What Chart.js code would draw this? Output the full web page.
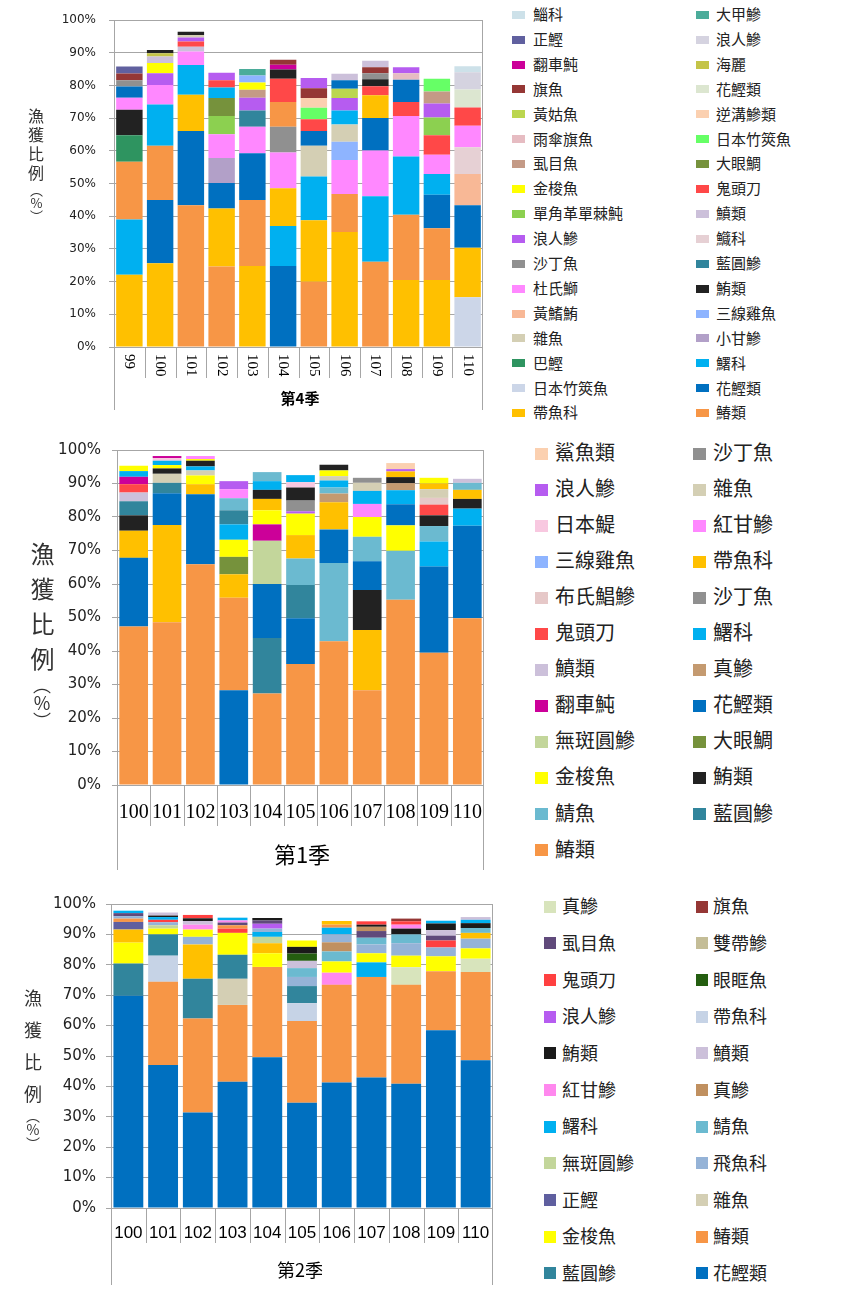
<!DOCTYPE html>
<html>
<head>
<meta charset="utf-8">
<script src="https://cdn.jsdelivr.net/npm/chart.js@4"></script>
<style>
  body { margin: 0; background: #fff; width: 854px; height: 1290px; position: relative; overflow: hidden;
         font-family: "Noto Sans CJK TC", "Noto Sans", sans-serif; }
  canvas { position: absolute; left: 0; }
  .leg { position: absolute; color: #222; white-space: nowrap; line-height: 1; }
  .sw { position: absolute; }
  .ytitle { position: absolute; writing-mode: vertical-rl; text-orientation: upright; color: #333; line-height: 1; }
  .ytitle span { letter-spacing: 0; }
</style>
</head>
<body>
<canvas id="c4" width="510" height="420" style="top:0"></canvas>
<canvas id="c1" width="510" height="445" style="top:430px"></canvas>
<canvas id="c2" width="510" height="405" style="top:885px"></canvas>
<div class="ytitle" style="left:28px;top:108px;font-size:16px;letter-spacing:3px">漁獲比例<span style="font-size:13px">（%）</span></div>
<div class="ytitle" style="left:30px;top:542px;font-size:24px;letter-spacing:11px">漁獲比例<span style="font-size:18px;margin-top:-6px">（%）</span></div>
<div class="ytitle" style="left:24px;top:989px;font-size:18px;letter-spacing:14px">漁獲比例<span style="font-size:14px;margin-top:-8px">（%）</span></div>
<div id="legends"></div>
<script>
// ---------- 第4季 ----------
const q4Years = ["99", "100", "101", "102", "103", "104", "105", "106", "107", "108", "109", "110"];
const q4Names = [
  "鯔科", "正鰹", "翻車魨", "旗魚", "黃姑魚", "雨傘旗魚", "虱目魚", "金梭魚", "單角革單棘魨",
  "浪人鰺", "沙丁魚", "杜氏鰤", "黃鰭鮪", "雜魚", "巴鰹", "日本竹筴魚", "帶魚科",
  "大甲鰺", "浪人鰺", "海麗", "花鰹類", "逆溝鰺類", "日本竹筴魚", "大眼鯛", "鬼頭刀",
  "鱝類", "鱵科", "藍圓鰺", "鮪類", "三線雞魚", "小甘鰺", "鱰科", "花鰹類", "鰆類"
];
// each bar, bottom to top: [species index, share %]
const q4Stacks = [
  [[16,22.1],[31,16.9],[33,17.7],[14,8.1],[28,7.8],[11,3.7],[32,3.4],[10,1.9],[3,2.1],[1,2.1]],
  [[16,25.6],[32,19.4],[33,16.6],[31,12.6],[11,6.0],[9,3.6],[7,3.1],[25,2.0],[19,1.0],[28,1.0]],
  [[33,43.4],[32,22.7],[16,11.1],[31,9.1],[11,4.1],[25,1.5],[24,1.6],[9,1.2],[13,0.8],[28,1.0]],
  [[33,24.6],[16,17.8],[32,7.8],[30,7.6],[11,7.3],[8,5.6],[23,5.5],[31,3.2],[24,2.2],[9,2.3]],
  [[16,24.8],[33,20.2],[32,14.3],[11,8.1],[27,5.0],[9,3.9],[6,2.4],[7,2.2],[29,2.2],[17,2.0]],
  [[32,24.8],[31,12.2],[16,11.6],[11,10.9],[10,7.9],[33,7.6],[24,7.1],[28,2.8],[2,1.5],[3,1.5]],
  [[33,20.0],[16,18.8],[31,13.4],[13,9.4],[32,4.5],[24,3.6],[22,3.5],[21,3.0],[3,3.0],[9,3.1]],
  [[16,35.2],[33,11.6],[11,10.4],[29,5.6],[13,5.3],[31,4.3],[9,3.8],[4,2.8],[32,2.6],[25,2.0]],
  [[33,26.1],[31,20.0],[11,14.0],[32,10.0],[16,6.9],[24,2.8],[28,2.1],[10,1.9],[3,1.8],[25,2.0]],
  [[16,20.5],[33,20.0],[31,17.8],[11,12.4],[24,4.3],[32,6.8],[5,2.0],[9,1.8]],
  [[16,20.5],[33,15.8],[32,10.3],[31,6.3],[11,5.9],[24,6.0],[8,5.4],[9,4.3],[6,3.7],[22,3.9]],
  [[15,15.2],[16,15.2],[32,13.0],[12,9.5],[26,8.2],[11,6.6],[24,5.6],[20,5.5],[18,5.3],[0,1.8]]
];

// ---------- 第1季 ----------
const q1Years = ["100", "101", "102", "103", "104", "105", "106", "107", "108", "109", "110"];
const q1Names = [
  "鯊魚類", "浪人鰺", "日本鯷", "三線雞魚", "布氏鯧鰺", "鬼頭刀", "鱝類", "翻車魨", "無斑圓鰺", "金梭魚", "鯖魚", "鰆類",
  "沙丁魚", "雜魚", "紅甘鰺", "帶魚科", "沙丁魚", "鱰科", "真鰺", "花鰹類", "大眼鯛", "鮪類", "藍圓鰺"
];
const q1Stacks = [
  [[11,47.3],[19,20.5],[15,8.1],[21,4.6],[22,4.2],[6,2.6],[5,2.5],[7,2.2],[17,1.7],[9,1.6]],
  [[11,48.6],[15,29.0],[19,9.5],[22,3.1],[13,2.7],[21,1.6],[9,1.0],[17,1.3],[2,0.8],[7,0.6]],
  [[11,65.9],[19,20.9],[15,3.0],[9,2.6],[13,1.5],[17,1.2],[21,1.7],[9,0.5],[14,0.9]],
  [[19,28.3],[11,27.6],[15,7.0],[20,5.2],[9,5.1],[17,4.6],[22,4.2],[10,3.6],[14,2.7],[1,2.4]],
  [[11,27.3],[22,16.6],[19,16.1],[8,12.9],[7,4.9],[9,4.2],[15,3.4],[21,2.7],[17,2.6],[10,2.7]],
  [[11,36.1],[19,13.7],[22,9.9],[10,7.9],[15,7.0],[9,6.4],[1,0.7],[12,3.2],[21,3.9],[2,1.6],[17,2.1]],
  [[11,42.9],[10,23.4],[19,10.0],[15,8.1],[18,2.6],[10,1.8],[17,2.1],[13,1.3],[9,1.7],[21,1.7]],
  [[11,28.3],[15,18.0],[21,11.9],[19,8.6],[10,7.3],[9,5.9],[14,3.9],[17,3.9],[13,2.4],[12,1.5]],
  [[11,55.3],[10,14.6],[9,7.6],[19,6.3],[17,4.2],[18,2.1],[21,1.8],[15,1.7],[1,0.7],[0,1.8]],
  [[11,39.5],[19,25.7],[17,7.5],[10,4.6],[21,3.2],[5,3.2],[4,2.0],[13,2.6],[15,1.7],[9,1.7]],
  [[11,49.8],[19,27.6],[17,5.1],[21,2.9],[15,2.7],[10,2.1],[6,1.2]]
];

// ---------- 第2季 ----------
const q2Years = ["100", "101", "102", "103", "104", "105", "106", "107", "108", "109", "110"];
const q2Names = [
  "真鰺", "虱目魚", "鬼頭刀", "浪人鰺", "鮪類", "紅甘鰺", "鱰科", "無斑圓鰺", "正鰹", "金梭魚", "藍圓鰺",
  "旗魚", "雙帶鰺", "眼眶魚", "帶魚科", "鱝類", "真鰺", "鯖魚", "飛魚科", "雜魚", "鰆類", "花鰹類",
  "帶魚科" // gold segments in the bars, not listed in the legend
];
const q2Stacks = [
  [[21,69.8],[10,10.6],[9,6.9],[22,4.3],[8,2.5],[20,1.1],[18,0.8],[1,1.0],[6,0.8]],
  [[21,47.0],[20,27.4],[14,8.6],[10,7.0],[9,1.9],[7,1.1],[18,1.0],[2,0.8],[6,0.9],[4,0.5],[15,1.0]],
  [[21,31.4],[20,30.9],[10,13.1],[22,11.3],[18,2.5],[9,2.4],[5,1.6],[15,1.2],[4,0.9],[2,1.1]],
  [[21,41.5],[20,25.3],[19,8.6],[10,7.9],[9,7.2],[2,1.4],[20,1.1],[1,0.9],[5,0.7],[6,0.9]],
  [[21,49.6],[20,29.7],[9,4.5],[22,3.3],[7,2.1],[6,1.6],[18,1.1],[3,1.6],[1,1.1],[4,0.8]],
  [[21,34.6],[20,26.9],[14,5.9],[10,5.6],[18,3.0],[17,2.9],[15,2.4],[13,2.4],[4,2.2],[9,2.1]],
  [[21,41.3],[20,32.1],[5,4.0],[9,3.7],[17,3.3],[16,3.0],[18,2.6],[6,2.2],[20,1.0],[22,1.2]],
  [[21,42.9],[20,33.1],[6,4.8],[9,3.0],[18,2.9],[17,2.2],[1,2.2],[16,1.4],[4,0.7],[2,1.1]],
  [[21,40.9],[20,32.5],[0,5.8],[9,3.8],[18,4.1],[17,2.9],[4,1.9],[5,1.3],[2,1.1],[11,0.9]],
  [[21,58.5],[20,19.4],[9,4.9],[18,2.9],[2,2.3],[1,1.6],[15,1.8],[4,2.2],[6,0.9]],
  [[21,48.6],[20,29.0],[0,4.4],[9,3.4],[18,3.2],[22,1.9],[17,1.6],[4,1.6],[6,1.1],[15,0.9]]
];

// colours, same order as the name lists
const q4Colors = [
  "#cde1e9", "#60609f", "#cc0099", "#953735", "#bbd64f", "#e6bcc2", "#c49a86", "#ffff00", "#8cd050",
  "#b65cf0", "#909090", "#ff88ff", "#f8b896", "#d4cfb4", "#2e9460", "#ccd6e8", "#ffc000",
  "#4bac9a", "#d5d3e0", "#c4c448", "#dce6d0", "#fbd0b0", "#66ff66", "#76923c", "#ff4848",
  "#ccc0da", "#e6d0d4", "#31859c", "#222222", "#8eb4ff", "#b2a0c8", "#00b0f0", "#0070c0", "#f79646"
];
const q1Colors = [
  "#fbd0b0", "#b65cf0", "#f8c8e0", "#8eb4ff", "#e6c8c8", "#ff4848", "#ccc0da", "#cc0099", "#c3d69b", "#ffff00", "#6bbad0", "#f79646",
  "#909090", "#d4cfb4", "#ff88ff", "#ffc000", "#909090", "#00b0f0", "#c49a70", "#0070c0", "#76923c", "#222222", "#31859c"
];
const q2Colors = [
  "#d8e4bc", "#604a7b", "#ff4040", "#b65cf0", "#1a1a1a", "#ff88ee", "#00b0f0", "#c3d69b", "#5f5f9f", "#ffff00", "#31859c",
  "#953735", "#c4bd97", "#245e10", "#c6d3e6", "#ccc0da", "#c09060", "#6bbad0", "#95b3d7", "#d4cfb4", "#f79646", "#0070c0",
  "#ffc000"
];

function layers(stacks, colors) {
  const n = Math.max(...stacks.map(s => s.length));
  const out = [];
  for (let k = 0; k < n; k++) {
    out.push({
      data: stacks.map(s => (s[k] ? s[k][1] : null)),
      backgroundColor: stacks.map(s => (s[k] ? colors[s[k][0]] : "rgba(0,0,0,0)")),
      borderWidth: 0,
      barPercentage: 0.86,
      categoryPercentage: 1
    });
  }
  return out;
}

// box sides, separators between categories, category labels and the season title
const frame = {
  id: "frame",
  afterDraw(chart, args, o) {
    const { ctx, chartArea: a, scales: { x } } = chart;
    const n = chart.data.labels.length;
    const half = (x.getPixelForValue(1) - x.getPixelForValue(0)) / 2;
    ctx.save();
    ctx.strokeStyle = "#a6a6a6";
    ctx.lineWidth = 1;
    ctx.beginPath();
    ctx.moveTo(Math.round(a.left) + 0.5, a.top);
    ctx.lineTo(Math.round(a.left) + 0.5, o.boxBottom);
    ctx.moveTo(Math.round(a.right) - 0.5, a.top);
    ctx.lineTo(Math.round(a.right) - 0.5, o.boxBottom);
    for (let i = 1; i < n; i++) {
      const px = Math.round(x.getPixelForValue(i) - half) + 0.5;
      ctx.moveTo(px, a.bottom);
      ctx.lineTo(px, o.sepBottom);
    }
    ctx.stroke();
    ctx.fillStyle = "#000";
    ctx.font = o.labelFont;
    ctx.textBaseline = "middle";
    chart.data.labels.forEach((l, i) => {
      const px = x.getPixelForValue(i);
      if (o.rotate) {
        ctx.save();
        ctx.translate(px, o.labelY);
        ctx.rotate(Math.PI / 2);
        ctx.textAlign = "left";
        ctx.fillText(l, 0, 0);
        ctx.restore();
      } else {
        ctx.textAlign = "center";
        ctx.fillText(l, px, o.labelY);
      }
    });
    ctx.textAlign = "center";
    ctx.font = o.titleFont;
    ctx.fillText(o.title, o.titleX, o.titleY);
    ctx.restore();
  }
};

function makeChart(id, years, stacks, colors, o) {
  return new Chart(document.getElementById(id), {
    type: "bar",
    data: { labels: years, datasets: layers(stacks, colors) },
    plugins: [frame],
    options: {
      responsive: false,
      animation: false,
      devicePixelRatio: 1,
      layout: { padding: { top: o.top, right: o.right, left: 0, bottom: 0 } },
      plugins: { legend: { display: false }, tooltip: { enabled: false }, frame: o.frame },
      scales: {
        x: {
          stacked: true,
          grid: { display: false },
          border: { display: false },
          ticks: { display: false },
          afterFit: s => { s.height = o.xh; }
        },
        y: {
          stacked: true,
          min: 0,
          max: 100,
          ticks: { stepSize: 10, callback: v => v + "%", color: "#222", padding: o.tickPad,
                   font: { family: "DejaVu Sans", size: o.tickSize } },
          grid: { color: "#a6a6a6", tickLength: 5 },
          border: { color: "#a6a6a6" },
          afterFit: s => { s.width = o.yw; }
        }
      }
    }
  });
}

makeChart("c4", q4Years, q4Stacks, q4Colors, {
  top: 18, right: 27, xh: 73, yw: 114, tickSize: 12, tickPad: 13,
  frame: { boxBottom: 410, sepBottom: 378, rotate: true, labelY: 354,
           labelFont: "15px 'Liberation Serif'", title: "第4季", titleX: 300, titleY: 398,
           titleFont: "bold 15px 'Noto Sans CJK TC'" }
});
makeChart("c1", q1Years, q1Stacks, q1Colors, {
  top: 13, right: 26, xh: 90, yw: 117, tickSize: 15, tickPad: 11,
  frame: { boxBottom: 440, sepBottom: 396, rotate: false, labelY: 383,
           labelFont: "20px 'Liberation Serif'", title: "第1季", titleX: 302, titleY: 425,
           titleFont: "22px 'Noto Sans CJK TC'" }
});
makeChart("c2", q2Years, q2Stacks, q2Colors, {
  top: 13, right: 17, xh: 82, yw: 111, tickSize: 15, tickPad: 10,
  frame: { boxBottom: 400, sepBottom: 358, rotate: false, labelY: 348,
           labelFont: "17px 'Liberation Sans'", title: "第2季", titleX: 300, titleY: 385,
           titleFont: "18px 'Noto Sans CJK TC'" }
});

// legends: two columns, first column then second
function legend(names, colors, shown, rows, g) {
  const host = document.getElementById("legends");
  for (let i = 0; i < shown; i++) {
    const col = i < rows ? 0 : 1;
    const row = col ? i - rows : i;
    const cy = g.y0 + row * g.dy;
    const sw = document.createElement("div");
    sw.className = "sw";
    sw.style.cssText = `left:${g.sx[col]}px;top:${cy - g.sh / 2}px;width:${g.sw}px;height:${g.sh}px;background:${colors[i]}`;
    const tx = document.createElement("div");
    tx.className = "leg";
    tx.style.cssText = `left:${g.tx[col]}px;top:${cy - g.fs * 0.58}px;font-size:${g.fs}px`;
    tx.textContent = names[i];
    host.appendChild(sw);
    host.appendChild(tx);
  }
}
legend(q4Names, q4Colors, 34, 17, { y0: 14.7, dy: 24.9, sx: [512, 696], tx: [533, 716], sw: 13, sh: 8, fs: 15 });
legend(q1Names, q1Colors, 23, 12, { y0: 453.5, dy: 36.06, sx: [535, 693], tx: [555, 713], sw: 13, sh: 12, fs: 20 });
legend(q2Names, q2Colors, 22, 11, { y0: 906.7, dy: 36.67, sx: [544, 696], tx: [562, 713], sw: 12, sh: 12, fs: 18 });
</script>
</body>
</html>
